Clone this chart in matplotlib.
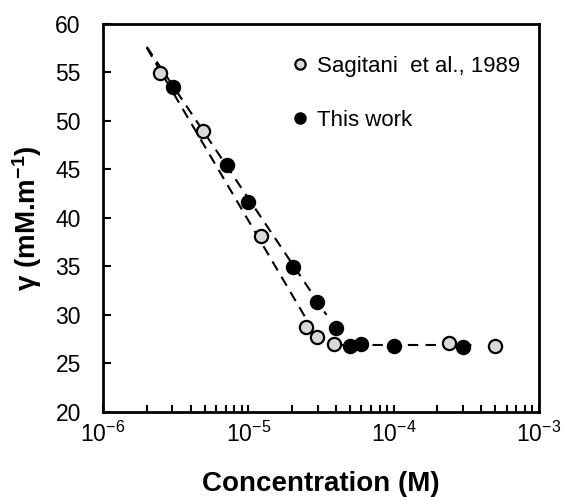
import numpy as np
import matplotlib
matplotlib.use("Agg")
import matplotlib.pyplot as plt
from matplotlib.ticker import LogLocator, NullFormatter

plt.rcParams["font.family"] = ["Liberation Sans", "DejaVu Sans"]
plt.rcParams["mathtext.fontset"] = "custom"
plt.rcParams["mathtext.rm"] = "Liberation Sans"
plt.rcParams["mathtext.bf"] = "Liberation Sans:bold"
plt.rcParams["axes.unicode_minus"] = False

# surface tension vs concentration
sag_conc = [2.47e-6, 4.88e-6, 1.22e-5, 2.49e-5, 2.97e-5, 3.89e-5, 2.41e-4, 4.95e-4]
sag_gamma = [54.9, 48.9, 38.1, 28.8, 27.75, 27.0, 27.07, 26.8]

this_conc = [3.02e-6, 7.1e-6, 1.0e-5, 2.02e-5, 2.98e-5, 4.02e-5, 5.0e-5, 5.97e-5, 1.0e-4, 2.98e-4]
this_gamma = [53.5, 45.4, 41.6, 34.96, 31.3, 28.7, 26.83, 26.97, 26.83, 26.7]

# fitted trend lines (end points)
fit_sag_x = [2.0e-6, 2.5e-5]
fit_sag_y = [57.5, 29.6]
fit_this_x = [2.0e-6, 3.45e-5]
fit_this_y = [57.6, 30.0]
plateau_x = [4.1e-5, 3.8e-4]
plateau_y = [26.9, 26.9]

fig = plt.figure(figsize=(5.62, 4.97), dpi=100)
ax = fig.add_axes([0.1833, 0.171, 0.7757, 0.7817])

for xs, ys in [(fit_sag_x, fit_sag_y), (fit_this_x, fit_this_y), (plateau_x, plateau_y)]:
    ax.plot(xs, ys, color="black", linestyle=(0, (5, 3.5)), linewidth=1.5, zorder=2)

ax.plot(sag_conc, sag_gamma, linestyle="none", marker="o", markersize=9.5,
        markerfacecolor="#d9d9d9", markeredgecolor="black", markeredgewidth=1.6,
        label="Sagitani  et al., 1989", zorder=3)
ax.plot(this_conc, this_gamma, linestyle="none", marker="o", markersize=9.5,
        markerfacecolor="black", markeredgecolor="black", markeredgewidth=1.6,
        label="This work", zorder=4)

ax.set_xscale("log")
ax.set_xlim(1e-6, 1e-3)
ax.set_ylim(20, 60)
ax.set_yticks(np.arange(20, 61, 5))
ax.xaxis.set_major_locator(LogLocator(base=10, numticks=10))
ax.xaxis.set_minor_locator(LogLocator(base=10, subs=np.arange(2, 10), numticks=20))
ax.xaxis.set_minor_formatter(NullFormatter())

ax.tick_params(axis="y", which="major", direction="in", length=6, width=1.5,
               labelsize=16.5, pad=16)
ax.tick_params(axis="x", which="both", direction="in", length=5, width=1.5,
               labelsize=16.5, pad=7)

for s in ax.spines.values():
    s.set_linewidth(2)

ax.set_xlabel("Concentration (M)", fontsize=20, fontweight="bold", labelpad=17)
ax.set_ylabel(r"γ (mM.m$\mathbf{^{-1}}$)", fontsize=20, fontweight="bold", labelpad=8)

ax.legend(loc="upper left", bbox_to_anchor=(0.431, 0.917), frameon=False,
          fontsize=16, handlelength=0.8, handletextpad=0.36, labelspacing=1.5,
          borderaxespad=0, borderpad=0, markerscale=0.78)

fig.savefig("out.png", dpi=100)
